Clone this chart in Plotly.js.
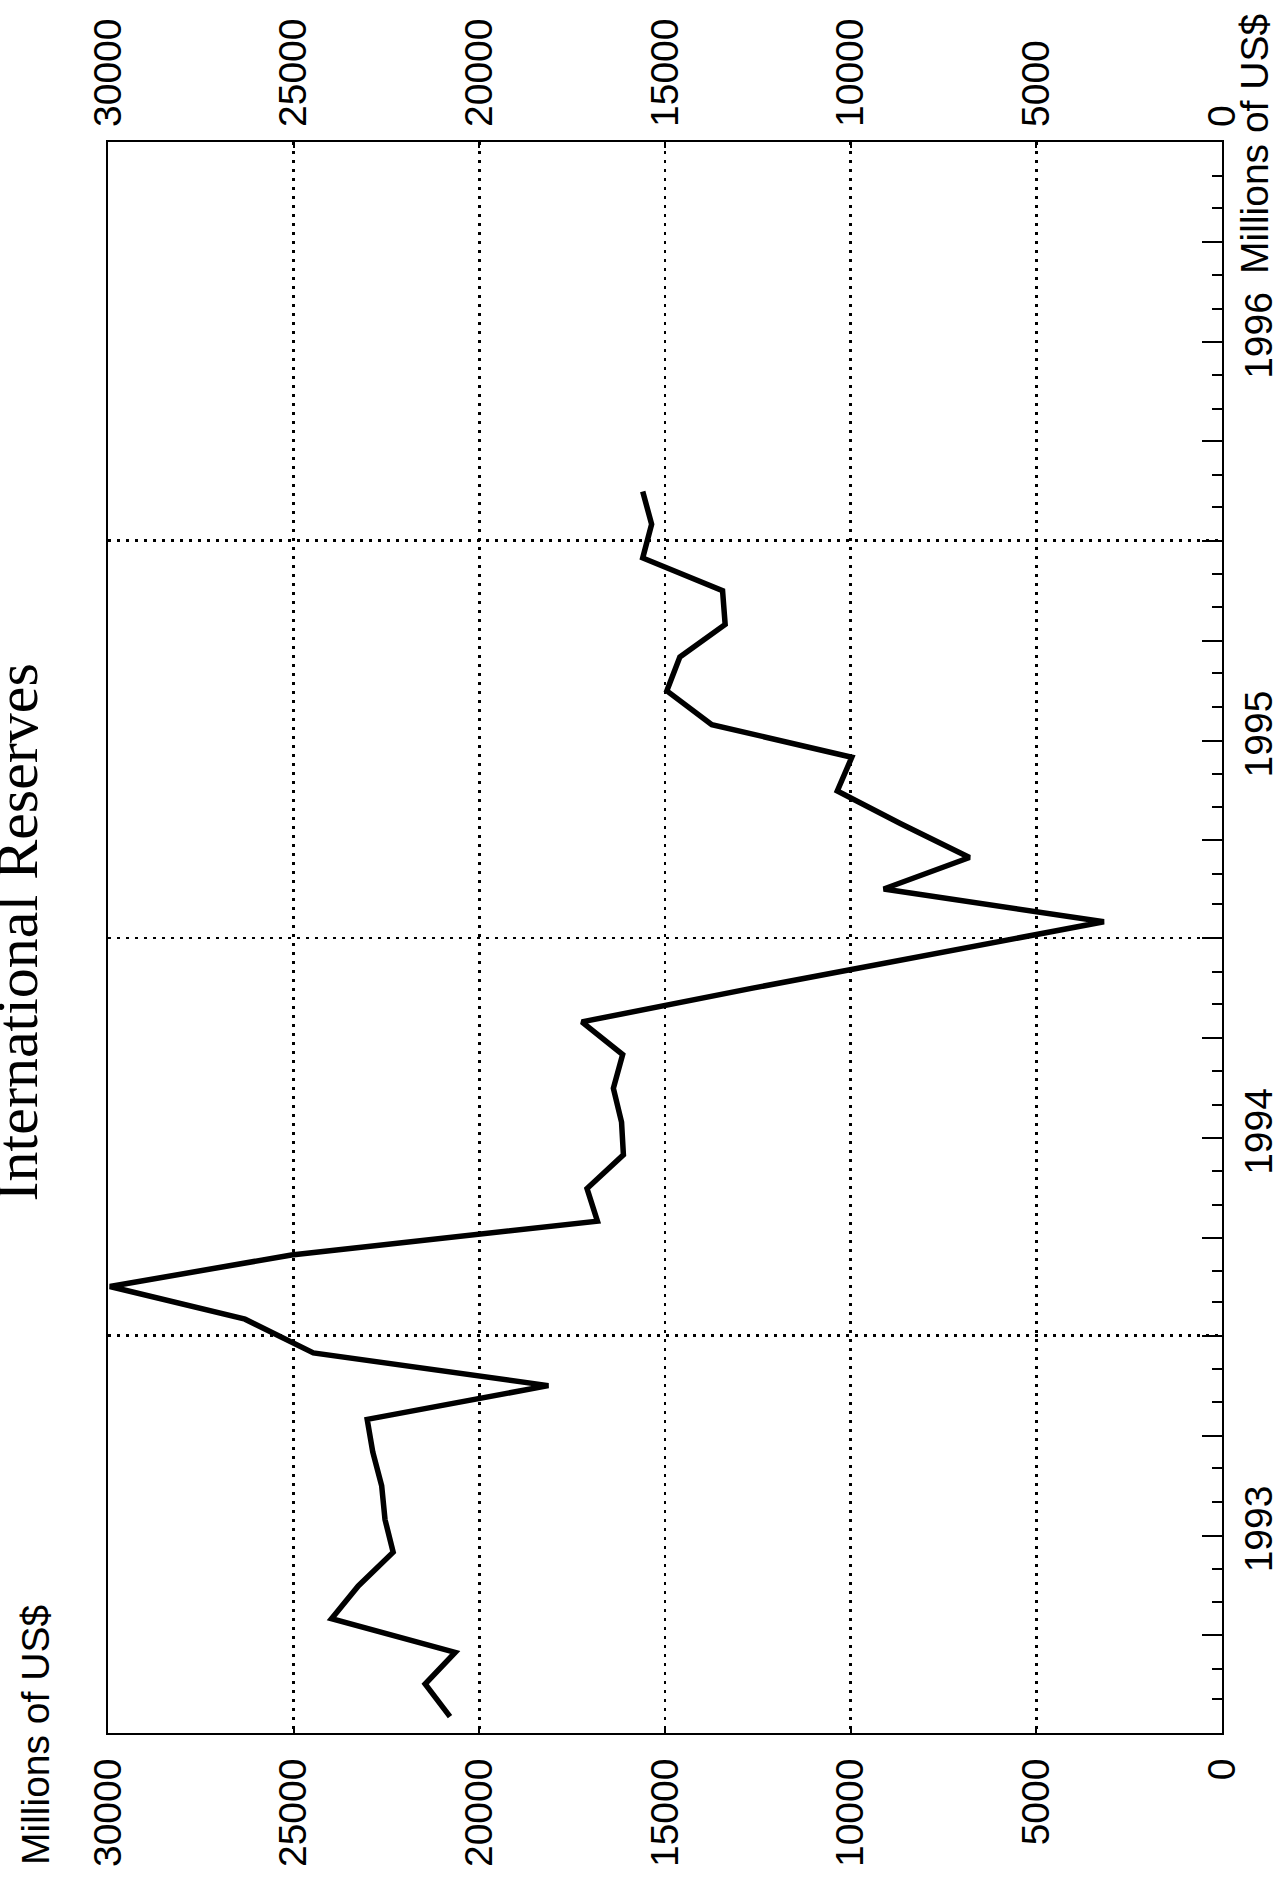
<!DOCTYPE html>
<html>
<head>
<meta charset="utf-8">
<script src="https://cdn.plot.ly/plotly-3.0.1.min.js"></script>
<style>html,body{margin:0;padding:0;background:#fff;}#chart{width:1280px;height:1881px;}</style>
</head>
<body>
<div id="chart"></div>
<script>
// Monthly observations (plotted at mid-month)
var months = [
  '1993-01-16','1993-02-15','1993-03-16','1993-04-16','1993-05-16','1993-06-16',
  '1993-07-16','1993-08-16','1993-09-16','1993-10-16','1993-11-16','1993-12-16',
  '1994-01-16','1994-02-15','1994-03-16','1994-04-16','1994-05-16','1994-06-16',
  '1994-07-16','1994-08-16','1994-09-16','1994-10-16','1994-11-16','1994-12-16',
  '1995-01-16','1995-02-15','1995-03-16','1995-04-16','1995-05-16','1995-06-16',
  '1995-07-16','1995-08-16','1995-09-16','1995-10-16','1995-11-16','1995-12-16',
  '1996-01-16','1996-02-15'
];
// International reserves, millions of US$
var reserves = [
  20790, 21460, 20650, 23980, 23260, 22320,
  22540, 22630, 22870, 23020, 18140, 24470,
  26310, 29950, 25060, 16820, 17100, 16120,
  16170, 16390, 16140, 17240, 12640, 7900,
  3180, 9110, 6800, 8650, 10360, 9970,
  13740, 14950, 14600, 13380, 13450, 15600,
  15360, 15600
];
var valueTicks = [0, 5000, 10000, 15000, 20000, 25000, 30000];
var yearTickPos = ['1993-07-02', '1994-07-02', '1995-07-02', '1996-07-02'];
var yearTickText = ['1993', '1994', '1995', '1996'];
var timeRange = ['1993-01-01', '1997-01-01'];
var valueRange = [30000, 0];
var titleText = 'International Reserves';
var unitText = 'Millions of US$';

var tickFont = {family: 'Liberation Sans, Arial, Helvetica, sans-serif', size: 39, color: '#000'};

var traces = [
  {x: reserves, y: months, type: 'scatter', mode: 'lines',
   line: {color: '#000', width: 5.5}, hoverinfo: 'skip', xaxis: 'x', yaxis: 'y'},
  {x: [], y: [], type: 'scatter', mode: 'lines', xaxis: 'x2', yaxis: 'y', hoverinfo: 'skip'},
  {x: [], y: [], type: 'scatter', mode: 'lines', xaxis: 'x', yaxis: 'y2', hoverinfo: 'skip'},
  {x: [], y: [], type: 'scatter', mode: 'lines', xaxis: 'x', yaxis: 'y3', hoverinfo: 'skip'}
];

var gridDash = '3px,6px';

var layout = {
  width: 1280, height: 1881,
  margin: {l: 108, r: 58, t: 142, b: 148, pad: 0},
  paper_bgcolor: '#fff', plot_bgcolor: '#fff',
  showlegend: false,
  xaxis: {
    range: valueRange, tickvals: valueTicks, ticktext: valueTicks.map(String),
    side: 'bottom', tickangle: -90, tickfont: tickFont,
    ticks: 'inside', ticklen: 6, tickwidth: 2, tickcolor: '#000',
    showgrid: true, gridcolor: '#000', gridwidth: 2.5, griddash: gridDash,
    showline: true, linecolor: '#000', linewidth: 2, mirror: true,
    zeroline: false, ticklabelstandoff: 8, fixedrange: true
  },
  xaxis2: {
    overlaying: 'x', side: 'top', range: valueRange, tickvals: valueTicks,
    ticktext: valueTicks.map(String), tickangle: -90, tickfont: tickFont,
    ticks: 'inside', ticklen: 6, tickwidth: 2, tickcolor: '#000',
    showgrid: false, showline: false, zeroline: false, ticklabelstandoff: 14
  },
  yaxis: {
    type: 'date', range: timeRange, side: 'right',
    tick0: '1993-01-01', dtick: 'M3', ticks: 'inside', ticklen: 20, tickwidth: 2, tickcolor: '#000',
    minor: {dtick: 'M1', tick0: '1993-01-01', ticks: 'inside', ticklen: 10, tickwidth: 2, tickcolor: '#000', showgrid: false},
    showticklabels: false, showgrid: false,
    showline: true, linecolor: '#000', linewidth: 2, mirror: true, zeroline: false
  },
  yaxis2: {
    type: 'date', range: timeRange, overlaying: 'y', side: 'right',
    tickvals: yearTickPos, ticktext: yearTickText, tickangle: -90, tickfont: tickFont,
    ticks: '', showgrid: false, showline: false, zeroline: false, ticklabelstandoff: 10
  },
  yaxis3: {
    type: 'date', range: timeRange, overlaying: 'y', side: 'left',
    tick0: '1993-01-01', dtick: 'M12', ticks: '', showticklabels: false,
    showgrid: true, gridcolor: '#000', gridwidth: 2.5, griddash: gridDash,
    showline: false, zeroline: false
  },
  annotations: [
    {text: titleText, xref: 'paper', yref: 'paper', x: -0.082, y: 0.503,
     xanchor: 'center', yanchor: 'middle', textangle: -90, showarrow: false,
     font: {family: 'Liberation Serif, Times New Roman, serif', size: 60, color: '#000'}},
    {text: unitText, xref: 'paper', yref: 'paper', x: -0.0646, y: -0.0842,
     xanchor: 'center', yanchor: 'bottom', textangle: -90, showarrow: false, font: tickFont},
    {text: unitText, xref: 'paper', yref: 'paper', x: 1.0296, y: 0.9158,
     xanchor: 'center', yanchor: 'bottom', textangle: -90, showarrow: false, font: tickFont}
  ]
};

Plotly.newPlot('chart', traces, layout, {staticPlot: true, displayModeBar: false});
</script>
</body>
</html>
